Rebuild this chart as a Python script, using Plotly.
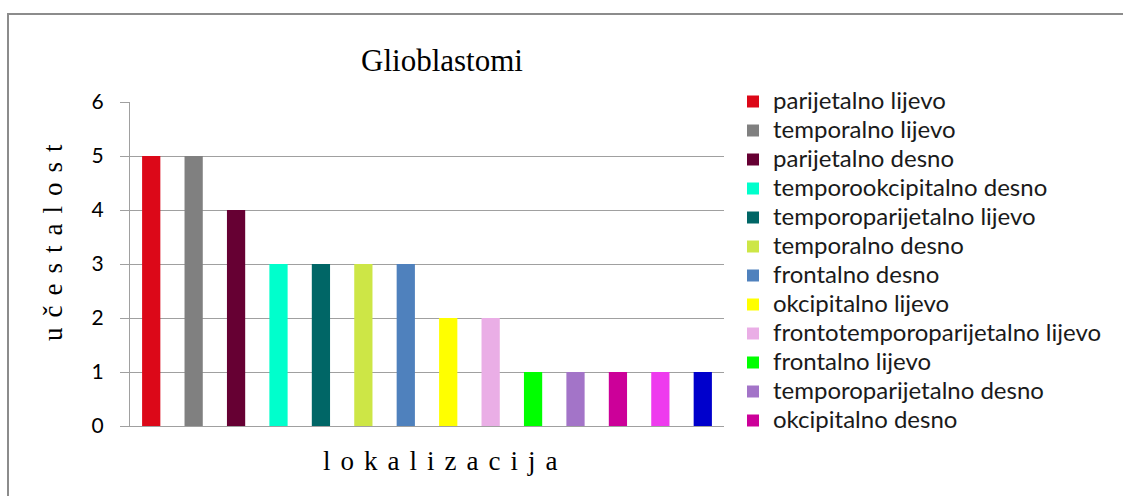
"""
Glioblastomi - frequency by localization
"""
import plotly.graph_objects as go

# Data
lokacije = [
    "parijetalno lijevo",
    "temporalno lijevo",
    "parijetalno desno",
    "temporookcipitalno desno",
    "temporoparijetalno lijevo",
    "temporalno desno",
    "frontalno desno",
    "okcipitalno lijevo",
    "frontotemporoparijetalno lijevo",
    "frontalno lijevo",
    "temporoparijetalno desno",
    "okcipitalno desno",
    "ostalo 1",
    "ostalo 2",
]
ucestalost = [5, 5, 4, 3, 3, 3, 3, 2, 2, 1, 1, 1, 1, 1]
boje = [
    "#DC0818", "#808080", "#660033", "#00FFCC", "#006666", "#CDE646", "#4F81BD",
    "#FFFF00", "#EAAEE6", "#00FF00", "#A374C8", "#CC0099", "#EE3BEE", "#0000CC",
]
u_legendi = [True] * 12 + [False] * 2

W, H = 1123, 496
L, R, T, B = 130, 724, 102, 426  # plot area in pixels
pw, ph = R - L, B - T

serif = "Liberation Serif, Times New Roman, serif"
sans = "Lato, Calibri, sans-serif"


def razmak(rijec, px):
    # letter-spaced text, spaces drawn smaller/larger via a span
    gap = '<span style="font-size:%dpx">\u2002</span>' % px
    return gap.join(rijec)


fig = go.Figure()

for naziv, vrijednost, boja, leg in zip(lokacije, ucestalost, boje, u_legendi):
    fig.add_trace(go.Bar(
        x=[naziv],
        y=[vrijednost],
        name='<span style="font-size:24px">%s</span>' % naziv,
        marker_color=boja,
        marker_line_width=0,
        showlegend=leg,
    ))

# Axis titles
fig.add_annotation(
    text=razmak("učestalost", 20), textangle=-90,
    xref="paper", yref="paper", x=(36 - L) / pw, y=(B - 243) / ph,
    showarrow=False, font=dict(family=serif, size=27, color="black"),
)
fig.add_annotation(
    text=razmak("lokalizacija", 20),
    xref="paper", yref="paper", x=(440 - L) / pw, y=(B - 478) / ph,
    showarrow=False, font=dict(family=serif, size=27, color="black"),
)

# Chart border (only left and top visible in the original)
fig.add_shape(
    type="rect", xref="paper", yref="paper",
    x0=(8 - L) / pw, x1=3, y0=-3, y1=(B - 14) / ph,
    line=dict(color="#8C8C8C", width=2), layer="below",
)

fig.update_layout(
    width=W, height=H,
    margin=dict(l=L, r=W - R, t=T, b=H - B),
    paper_bgcolor="white",
    plot_bgcolor="white",
    bargap=0.57,
    title=dict(
        text="Glioblastomi",
        x=442 / W, xanchor="center",
        y=1 - 60 / H, yanchor="middle",
        font=dict(family=serif, size=31, color="black"),
    ),
    xaxis=dict(
        type="category",
        categoryorder="array",
        categoryarray=lokacije,
        showticklabels=False,
        showgrid=False,
        ticks="",
        showline=True,
        linecolor="#A0A0A0",
        linewidth=1,
    ),
    yaxis=dict(
        range=[0, 6],
        dtick=1,
        showgrid=True,
        gridcolor="#A0A0A0",
        gridwidth=1,
        zeroline=False,
        showline=True,
        linecolor="#A0A0A0",
        linewidth=1,
        ticks="outside",
        ticklen=9,
        tickcolor="#A0A0A0",
        ticklabelstandoff=12,
        tickfont=dict(family=sans, size=21, color="black"),
    ),
    legend=dict(
        x=(733 - L) / pw, xanchor="left",
        y=(B - 82) / ph, yanchor="top",
        font=dict(family=sans, size=20, color="#1a1a1a"),
        tracegroupgap=0,
        maxheight=440,
        itemclick=False,
        bgcolor="rgba(0,0,0,0)",
    ),
    showlegend=True,
)

fig.write_html(
    "out.html",
    config={"displayModeBar": False},
    post_script="document.body.style.margin='0';",
)
